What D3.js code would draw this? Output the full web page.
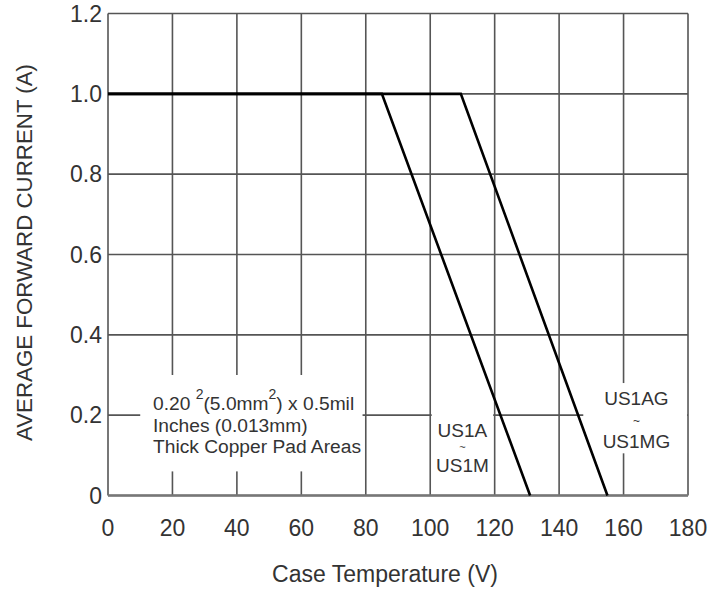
<!DOCTYPE html>
<html><head><meta charset="utf-8">
<script src="https://cdn.jsdelivr.net/npm/d3@7"></script>
<style>body{margin:0;background:#fff}svg{display:block}text{font-family:"Liberation Sans",Arial,sans-serif;fill:#333}</style>
</head><body><svg id="c" width="722" height="590"></svg>
<script>
const xTicks = [0,20,40,60,80,100,120,140,160,180];
const yTicks = [0,0.2,0.4,0.6,0.8,1.0,1.2];
const yTickLabels = ["0","0.2","0.4","0.6","0.8","1.0","1.2"];
const us1aTemp = [0,85,131];
const us1aCurrent = [1.0,1.0,0];
const us1agTemp = [0,109.5,155];
const us1agCurrent = [1.0,1.0,0];
const xTitle = "Case Temperature (V)";
const yTitle = "AVERAGE FORWARD CURRENT (A)";

const svg = d3.select("#c");
const L=108,R=688,T=13.5,B=495.5;
const x = d3.scaleLinear().domain([0,180]).range([L,R]);
const y = d3.scaleLinear().domain([0,1.2]).range([B,T]);
const grid = "#555";

// grid
svg.append("g").selectAll("line").data(xTicks).join("line")
  .attr("x1",d=>x(d)).attr("x2",d=>x(d)).attr("y1",T).attr("y2",B)
  .attr("stroke",grid).attr("stroke-width",1.6);
svg.append("g").selectAll("line").data(yTicks).join("line")
  .attr("x1",L).attr("x2",R).attr("y1",d=>y(d)).attr("y2",d=>y(d))
  .attr("stroke",grid).attr("stroke-width",1.6);
svg.append("line").attr("x1",L).attr("x2",R).attr("y1",B).attr("y2",B).attr("stroke","#777").attr("stroke-width",2.5);

// tick labels
svg.append("g").selectAll("text").data(xTicks).join("text")
  .attr("x",d=>x(d)).attr("y",536).attr("text-anchor","middle")
  .attr("font-size",23).text(d=>d);
svg.append("g").selectAll("text").data(yTicks).join("text")
  .attr("x",L-6).attr("y",d=>y(d)+8).attr("text-anchor","end")
  .attr("font-size",23).text((d,i)=>yTickLabels[i]);

// titles
svg.append("text").attr("x",385).attr("y",582).attr("text-anchor","middle").attr("font-size",23).text(xTitle);
svg.append("text").attr("transform","translate(32,252.5) rotate(-90)").attr("text-anchor","middle").attr("font-size",22.3).text(yTitle);

// annotation boxes (white background hiding grid)
svg.append("rect").attr("x",x(10)).attr("y",y(0.3)).attr("width",x(79)-x(10)).attr("height",y(0.06)-y(0.3)).attr("fill","#fff");
svg.append("rect").attr("x",x(100)+1.5).attr("y",y(0.26)).attr("width",x(120)-x(100)-3).attr("height",y(0.04)-y(0.26)).attr("fill","#fff");
svg.append("rect").attr("x",x(147.5)).attr("y",y(0.28)).attr("width",x(179.7)-x(147.5)).attr("height",y(0.105)-y(0.28)).attr("fill","#fff");

// annotation text
const a1 = svg.append("text").attr("font-size",19.2);
const t1 = a1.append("tspan").attr("x",153).attr("y",410);
t1.append("tspan").text("0.20 ");
t1.append("tspan").attr("dy",-11).attr("font-size",14).text("2");
t1.append("tspan").attr("dy",11).text("(5.0mm");
t1.append("tspan").attr("dy",-11).attr("font-size",14).text("2");
t1.append("tspan").attr("dy",11).text(") x 0.5mil");
a1.append("tspan").attr("x",153).attr("y",431.7).text("Inches (0.013mm)");
a1.append("tspan").attr("x",153).attr("y",453.3).text("Thick Copper Pad Areas");

const lab1 = ["US1A","~","US1M"], lab1y=[436.5,451,472], lab1f=[19,11,19];
svg.append("g").selectAll("text").data(lab1).join("text").attr("x",x(110)).attr("y",(d,i)=>lab1y[i])
  .attr("text-anchor","middle").attr("font-size",(d,i)=>lab1f[i]).text(d=>d);
const lab2 = ["US1AG","~","US1MG"], lab2y=[405,425,448], lab2f=[19,12,19];
svg.append("g").selectAll("text").data(lab2).join("text").attr("x",x(164)).attr("y",(d,i)=>lab2y[i])
  .attr("text-anchor","middle").attr("font-size",(d,i)=>lab2f[i]).text(d=>d);

// data lines
const line = d3.line().x(d=>x(d[0])).y(d=>y(d[1]));
svg.append("path").attr("d",line(d3.zip(us1agTemp,us1agCurrent))).attr("fill","none").attr("stroke","#000").attr("stroke-width",2.6);
svg.append("path").attr("d",line(d3.zip(us1aTemp,us1aCurrent))).attr("fill","none").attr("stroke","#000").attr("stroke-width",2.6);
</script></body></html>
